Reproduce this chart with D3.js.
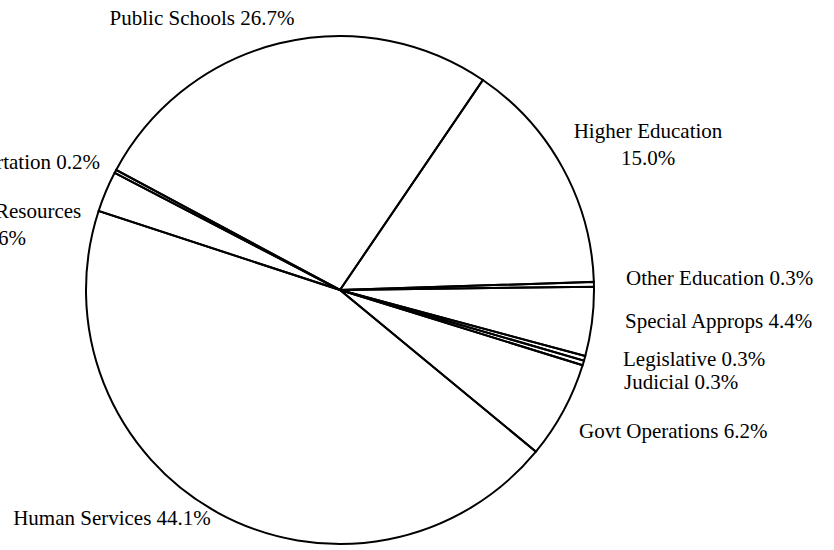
<!DOCTYPE html>
<html>
<head>
<meta charset="utf-8">
<script src="https://cdn.jsdelivr.net/npm/d3@7"></script>
<style>
  body { margin: 0; background: #fff; }
  svg { display: block; }
</style>
</head>
<body>
<div id="chart"></div>
<script>
'use strict';

var categories = ['Public Schools', 'Higher Education', 'Other Education', 'Special Approps',
	'Legislative', 'Judicial', 'Govt Operations', 'Human Services', 'Natural Resources', 'Transportation'];
var shares = [26.7, 15.0, 0.3, 4.4, 0.3, 0.3, 6.2, 44.1, 2.6, 0.2];
// label text lines, one array per slice
var labelLines = [
	['Public Schools 26.7%'],
	['Higher Education', '15.0%'],
	['Other Education 0.3%'],
	['Special Approps 4.4%'],
	['Legislative 0.3%'],
	['Judicial 0.3%'],
	['Govt Operations 6.2%'],
	['Human Services 44.1%'],
	['Natural Resources', '2.6%'],
	['Transportation 0.2%']
];
// where each label sits on the page: x, baseline y, anchor
var labelLayout = [
	[202, 25, 'middle'],
	[648, 138, 'middle'],
	[626, 285, 'start'],
	[625, 328, 'start'],
	[623, 366, 'start'],
	[624, 389, 'start'],
	[579, 438, 'start'],
	[112, 525, 'middle'],
	[4, 218, 'middle'],
	[100, 169, 'end']
];

var width = 834, height = 550;
var cx = 340, cy = 290, radius = 254;

var svg = d3.select('#chart').append('svg')
	.attr('width', width)
	.attr('height', height);

var pie = d3.pie()
	.sort(null)
	.value(function(d) { return d; })
	.startAngle(-61.8 * Math.PI / 180)
	.endAngle((360 - 61.8) * Math.PI / 180);

var arc = d3.arc()
	.innerRadius(0)
	.outerRadius(radius);

var g = svg.append('g')
	.attr('transform', 'translate(' + cx + ',' + cy + ')');

g.selectAll('path')
	.data(pie(shares))
	.enter().append('path')
	.attr('d', arc)
	.attr('fill', 'none')
	.attr('stroke', '#000')
	.attr('stroke-width', 2)
	.attr('stroke-linejoin', 'miter');

var labels = svg.append('g')
	.attr('font-family', '"Liberation Serif", "Times New Roman", serif')
	.attr('font-size', 21)
	.attr('fill', '#000');

categories.forEach(function(name, i) {
	var pos = labelLayout[i];
	var t = labels.append('text')
		.attr('x', pos[0])
		.attr('y', pos[1])
		.attr('text-anchor', pos[2]);
	labelLines[i].forEach(function(line, j) {
		t.append('tspan')
			.attr('x', pos[0])
			.attr('dy', j === 0 ? 0 : 27)
			.text(line);
	});
});
</script>
</body>
</html>
